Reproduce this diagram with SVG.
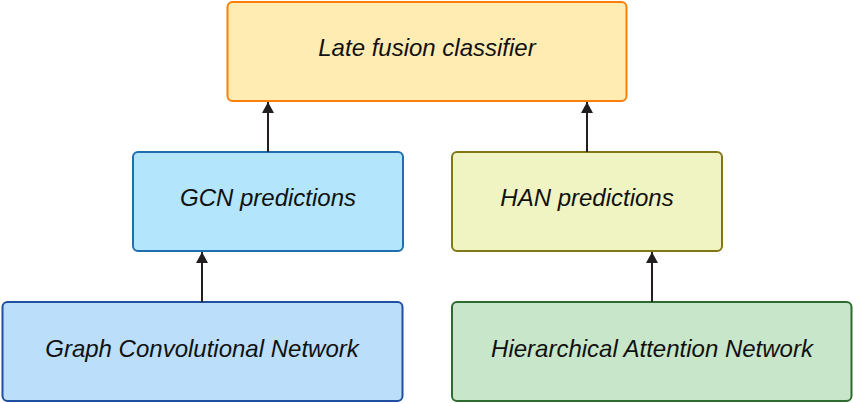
<svg xmlns="http://www.w3.org/2000/svg" width="853" height="403" viewBox="0 0 853 403">
<defs>
<marker id="arr" markerWidth="13" markerHeight="12" refX="11" refY="6" orient="auto" markerUnits="userSpaceOnUse">
<path d="M0,0 L11,6 L0,12 Z" fill="#231f20"/>
</marker>
<style>
text{font-family:"Liberation Sans",Arial,sans-serif;font-style:italic;font-size:24px;fill:#111;text-anchor:middle}
rect{stroke-width:2}
.edge{stroke:#231f20;stroke-width:2;fill:none}
</style>
</defs>
<rect x="0" y="0" width="853" height="403" fill="#ffffff" style="stroke:none"/>
<g id="late-fusion">
<rect x="227.5" y="2" width="399" height="99" rx="5" fill="#ffecb3" stroke="#fa7f0a"/>
<text x="427" y="56">Late fusion classifier</text>
</g>
<g id="gcn-predictions">
<rect x="133" y="152" width="270" height="99" rx="5" fill="#b3e5fc" stroke="#1e6fb0"/>
<text x="268" y="206">GCN predictions</text>
</g>
<g id="han-predictions">
<rect x="452" y="152" width="270" height="99" rx="5" fill="#f0f4c3" stroke="#827717"/>
<text x="587" y="206">HAN predictions</text>
</g>
<g id="gcn">
<rect x="2.5" y="302" width="400" height="99" rx="5" fill="#bbdefb" stroke="#1f4fa0"/>
<text x="202" y="357">Graph Convolutional Network</text>
</g>
<g id="han">
<rect x="452" y="302" width="399.5" height="99" rx="5" fill="#c8e6c9" stroke="#2e6b30"/>
<text x="652" y="357">Hierarchical Attention Network</text>
</g>
<g id="connectors">
<line class="edge" x1="268" y1="152" x2="268" y2="102" marker-end="url(#arr)"/>
<line class="edge" x1="587" y1="152" x2="587" y2="102" marker-end="url(#arr)"/>
<line class="edge" x1="202" y1="302" x2="202" y2="252" marker-end="url(#arr)"/>
<line class="edge" x1="652" y1="302" x2="652" y2="252" marker-end="url(#arr)"/>
</g>
</svg>
